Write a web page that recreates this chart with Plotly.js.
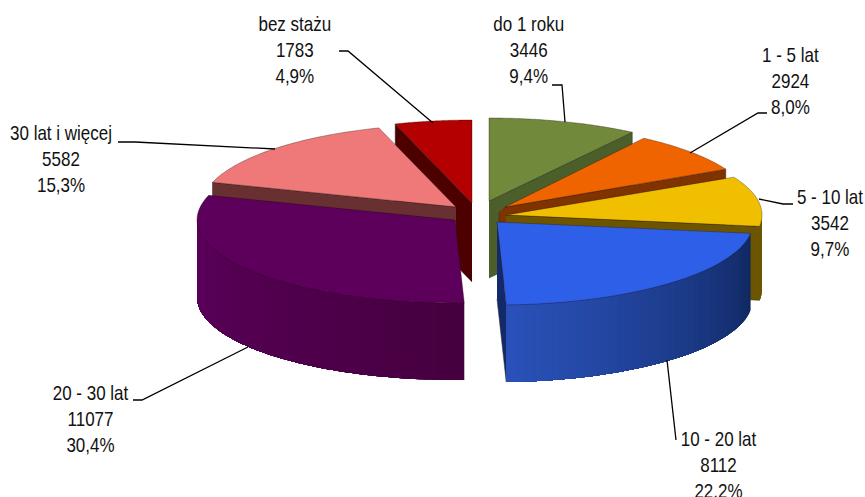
<!DOCTYPE html>
<html>
<head>
<meta charset="utf-8">
<script src="https://cdn.plot.ly/plotly-3.0.1.min.js"></script>
<style>html,body{margin:0;padding:0;background:#fff}#c{width:865px;height:497px}</style>
</head>
<body>
<div id="c"></div>
<script>
// Data
var categories = ["do 1 roku","1 - 5 lat","5 - 10 lat","10 - 20 lat","20 - 30 lat","30 lat i więcej","bez stażu"];
var values = [3446,2924,3542,8112,11077,5582,1783];
var percents = ["9,4%","8,0%","9,7%","22,2%","30,4%","15,3%","4,9%"];

// Styling and pie geometry
var topColors  = ["#71893a","#f06400","#f0c000","#2e5fe8","#5c005c","#ef7878","#b40000"];
var sideColors = ["#4b5f2a","#7f3300","#6d5500","#12296b","#5c005c","#683030","#4d0000"];
var pivotX = [489,505,506,497,455,456,472];
var pivotY = [201,207,215,222,220,207,203];
var radiusX = [256,248,256,256,258,255,254];
var radiusY = 83;
var depth = [77,77,74,77,77,77,79];
var sideEdge = ["end","end","end","end",null,"start","start"];
var innerLip = {1:[-6,5]};
var wallStops = {2:["#6d5500","#6d5500"],3:["#10275f","#2a52ba"],4:["#45003f","#5c005c"]};
var drawOrder = [6,0,1,2,5,4,3];

var total = values.reduce(function(a,b){return a+b;},0);
var startAngle = [], endAngle = [], run = 0;
values.forEach(function(v){ startAngle.push(run/total*360); run += v; endAngle.push(run/total*360); });

function pt(i,deg,drop){
  var r = deg*Math.PI/180;
  return [pivotX[i]+radiusX[i]*Math.sin(r), pivotY[i]-radiusY*Math.cos(r)+(drop||0)];
}
function poly(points,fill,line,w){
  return {type:"scatter",mode:"lines",x:points.map(function(p){return p[0];}),y:points.map(function(p){return p[1];}),
    fill:"toself",fillcolor:fill,line:{color:line||fill,width:w===undefined?0.7:w,simplify:false},hoverinfo:"skip",showlegend:false};
}
function hex(c){return [1,3,5].map(function(k){return parseInt(c.substr(k,2),16);});}
function mix(a,b,t){var A=hex(a),B=hex(b);return "rgb("+A.map(function(v,k){return Math.round(v+(B[k]-v)*t);}).join(",")+")";}

var traces = [];
drawOrder.forEach(function(i){
  var a0=startAngle[i], a1=endAngle[i], d=depth[i];
  // visible radial face
  if(sideEdge[i]){
    var e = sideEdge[i]==="end"?a1:a0, c=pt(i,e), px=pivotX[i], py=pivotY[i];
    var face=[[px,py],c,[c[0],c[1]+d],[px,py+d]];
    if(innerLip[i]){ var lx=px+innerLip[i][0], ly=py+innerLip[i][1]; face.push([lx,ly+d]); face.push([lx,ly]); }
    traces.push(poly(face,sideColors[i],"#2a2a2a",0.5));
  }
  // outer wall: overlapping shaded bands, painted one over another
  if(wallStops[i]){
    var to=Math.min(a1,270), from2=Math.max(a0,90), n=Math.max(4,Math.round((to-from2)/2));
    for(var k=0;k<n;k++){
      var s=from2+(to-from2)*k/n;
      var col=mix(wallStops[i][0],wallStops[i][1],(k+0.5)/n);
      var pts=[], m=Math.max(2,Math.round((to-s)/2));
      for(var q=0;q<=m;q++){pts.push(pt(i,s+(to-s)*q/m));}
      for(q=m;q>=0;q--){pts.push(pt(i,s+(to-s)*q/m,d));}
      traces.push(poly(pts,col,col,0));
    }
  }
  // top face
  var top=[[pivotX[i],pivotY[i]]];
  for(var g=0;g<=60;g++){top.push(pt(i,a0+(a1-a0)*g/60));}
  top.push([pivotX[i],pivotY[i]]);
  traces.push(poly(top,topColors[i],"rgba(30,10,10,0.55)",0.6));
});

// Labels: centre x, y of middle line
var labelX = [528,790,830,718,90,61,295];
var labelY = [50,81,223,465,419,159,50];
var annotations = categories.map(function(c,i){
  return {x:labelX[i],y:labelY[i],xref:"x",yref:"y",showarrow:false,align:"center",xanchor:"center",yanchor:"middle",
    text:c+"<br>"+values[i]+"<br>"+percents[i],
    font:{family:"'Liberation Sans',Arial,sans-serif",size:20,color:"#111"}};
});

// Leader lines
var leaders = [
  [[552,85],[562,85],[565,122]],
  [[767,113],[758,113],[690,153]],
  [[793,204],[783,204],[759,199]],
  [[676,440],[667,360]],
  [[133,400],[142,400],[248,347]],
  [[118,142],[135,142],[275,149]],
  [[339,51],[348,51],[433,123]]
];
var shapes = leaders.map(function(L){
  return {type:"path",xref:"x",yref:"y",layer:"above",
    path:L.map(function(p,j){return (j?"L":"M")+p[0]+","+p[1];}).join(" "),
    line:{color:"#000",width:1.3}};
});

Plotly.newPlot("c",traces,{
  width:865,height:497,margin:{l:0,r:0,t:0,b:0},paper_bgcolor:"#fff",plot_bgcolor:"#fff",showlegend:false,
  xaxis:{range:[0,865],visible:false,fixedrange:true},
  yaxis:{range:[497,0],visible:false,fixedrange:true},
  annotations:annotations,shapes:shapes,hovermode:false
},{displayModeBar:false,staticPlot:true}).then(function(){
  // the reference's labels are horizontally condensed
  document.querySelectorAll("#c .annotation-text").forEach(function(t){
    var b=t.getBBox(), cx=b.x+b.width/2, old=t.getAttribute("transform")||"";
    t.setAttribute("transform",old+" translate("+cx+",0) scale(0.85,1) translate("+(-cx)+",0)");
  });
});
</script>
</body>
</html>
